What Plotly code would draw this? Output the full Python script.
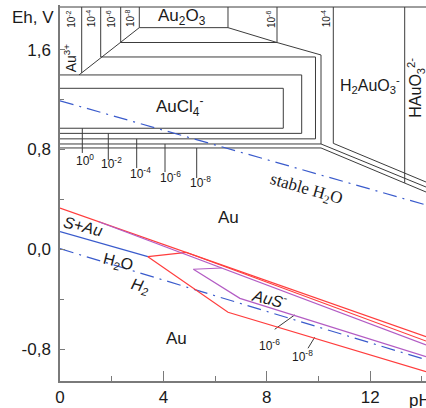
import plotly.graph_objects as go

# ---------------- data (pH, Eh in V) ----------------
# upper frame of the diagram
top_ph = [0, 14.16]
top_eh = [1.9415, 1.9415]

# Au3+ / Au2O3 boundaries (vertical lines, 10^-2 .. 10^-8) and the Au3+ diagonal
au3_v_ph = [0.839, 1.574, 2.348, 3.068]
au3_v_eh = [1.413, 1.541, 1.657, 1.776]
au3_diag_ph = [0.735, 3.068]
au3_diag_eh = [1.397, 1.776]

# Au2O3 / H2AuO3- / HAuO3(2-) vertical boundaries
ox_v_ph = [6.499, 8.395, 10.573, 13.335]
ox_v_eh = [1.776, 1.657, 0.849, 0.532]

# AuCl4- field contours for 10^0, 10^-2, 10^-4, 10^-6, 10^-8
cl0_ph = [0, 8.638, 8.638, 0]
cl0_eh = [1.290, 1.290, 0.970, 0.970]
cl2_ph = [0, 9.350, 9.350, 0]
cl2_eh = [1.397, 1.397, 0.929, 0.929]
cl4_ph = [1.574, 9.884, 9.884, 0]
cl4_eh = [1.541, 1.541, 0.885, 0.885]
cl6_ph = [2.348, 8.395, 10.097, 10.097, 0]
cl6_eh = [1.657, 1.657, 1.557, 0.844, 0.844]
cl8_ph = [3.068, 6.499, 8.395]
cl8_eh = [1.776, 1.776, 1.657]

# Au / H2AuO3- boundaries
ha4_ph = [10.573, 14.16]
ha4_eh = [0.849, 0.539]
ha6_ph = [10.097, 14.16]
ha6_eh = [0.844, 0.499]
ha8_ph = [0, 10.097, 14.16]
ha8_eh = [0.812, 0.812, 0.459]

# leader lines for the AuCl4- contour labels
cl_lead_ph = [0.863, 1.868, 2.967, 4.062, 5.288]
cl_lead_top = [0.970, 0.929, 0.885, 0.844, 0.812]
cl_lead_bot = [0.772, 0.716, 0.651, 0.619, 0.571]

# water stability lines
o2_ph = [0, 14.16]
o2_eh = [1.19, 0.355]
h2_ph = [0, 14.16]
h2_eh = [0.005, -0.885]
s_h2s_ph = [0, 3.40]
s_h2s_eh = [0.141, -0.059]

# sulfur / AuS- system
redA_ph = [0, 14.16]
redA_eh = [0.33, -0.70]
redB_ph = [4.90, 14.16]
redB_eh = [-0.026, -0.735]
red_short_ph = [3.40, 4.90]
red_short_eh = [-0.059, -0.024]
red_low_ph = [3.40, 6.50, 14.16]
red_low_eh = [-0.059, -0.505, -0.981]
pur_up_ph = [1.5, 14.16]
pur_up_eh = [0.221, -0.767]
pur_short_ph = [5.16, 6.26]
pur_short_eh = [-0.160, -0.150]
pur_low_ph = [5.16, 6.96, 14.16]
pur_low_eh = [-0.160, -0.393, -0.861]
lead6_ph = [8.306, 9.079]
lead6_eh = [-0.641, -0.526]
lead8_ph = [9.594, 9.853]
lead8_eh = [-0.793, -0.705]

# tick labels
x_ticks = [0, 4, 8, 12]
x_ticktext = ["0", "4", "8", "12"]
y_ticks = [-0.8, 0.0, 0.8, 1.6]
y_ticktext = ["-0,8", "0,0", "0,8", "1,6"]

# ---------------- figure ----------------
fig = go.Figure()


def add_lines(segments, color, width, dash=None):
    xs, ys = [], []
    for sx, sy in segments:
        xs += list(sx) + [None]
        ys += list(sy) + [None]
    fig.add_trace(go.Scatter(x=xs, y=ys, mode="lines",
                             line=dict(color=color, width=width, dash=dash),
                             hoverinfo="skip", showlegend=False))


gray = "#3c3c3c"
segs = [(top_ph, top_eh), (au3_diag_ph, au3_diag_eh)]
for p, e in zip(au3_v_ph, au3_v_eh):
    segs.append(([p, p], [top_eh[0], e]))
for p, e in zip(ox_v_ph, ox_v_eh):
    segs.append(([p, p], [top_eh[0], e]))
segs += [(cl0_ph, cl0_eh), (cl2_ph, cl2_eh), (cl4_ph, cl4_eh), (cl6_ph, cl6_eh),
         (cl8_ph, cl8_eh), (ha4_ph, ha4_eh), (ha6_ph, ha6_eh), (ha8_ph, ha8_eh)]
for p, a, b in zip(cl_lead_ph, cl_lead_top, cl_lead_bot):
    segs.append(([p, p], [a, b]))
segs += [(lead6_ph, lead6_eh), (lead8_ph, lead8_eh)]
add_lines(segs, gray, 1)

blue = "#3a5bcc"
add_lines([(o2_ph, o2_eh), (h2_ph, h2_eh)], blue, 1.2, dash="14px,6px,2px,6px")
add_lines([(s_h2s_ph, s_h2s_eh)], blue, 1.2)

red = "#ff3d3d"
add_lines([(redA_ph, redA_eh), (redB_ph, redB_eh), (red_short_ph, red_short_eh),
           (red_low_ph, red_low_eh)], red, 1.2)
purple = "#b35cc4"
add_lines([(pur_up_ph, pur_up_eh), (pur_short_ph, pur_short_eh),
           (pur_low_ph, pur_low_eh)], purple, 1.2)

# ---------------- labels ----------------
sans = "Liberation Sans"
serif = "Liberation Serif"
labels = [
    # text, pH, Eh, angle, size, family
    ("Au<sub>2</sub>O<sub>3</sub>", 4.72, 1.862, 0, 17, sans),
    ("Au<sup>3+</sup>", 0.40, 1.533, -90, 14, sans),
    ("AuCl<sub>4</sub><sup>-</sup>", 4.64, 1.143, 0, 17, sans),
    ("H<sub>2</sub>AuO<sub>3</sub><sup>-</sup>", 11.98, 1.317, 0, 16, sans),
    ("HAuO<sub>3</sub><sup>2-</sup>", 13.76, 1.292, -90, 16, sans),
    ("stable H<sub>2</sub>O", 9.52, 0.475, 16, 17, serif),
    ("Au", 6.50, 0.251, 0, 17, sans),
    ("<i>S+Au</i>", 0.89, 0.179, 14, 16, sans),
    ("H<sub>2</sub>O", 2.24, -0.102, 14, 16, sans),
    ("<i>H<sub>2</sub></i>", 3.10, -0.302, 14, 16, sans),
    ("<i>AuS<sup>-</sup></i>", 8.12, -0.390, 14, 16, sans),
    ("Au", 4.52, -0.713, 0, 17, sans),
    ("10<sup>-6</sup>", 8.11, -0.767, 0, 12, sans),
    ("10<sup>-8</sup>", 9.40, -0.855, 0, 12, sans),
    ("10<sup>0</sup>", 0.97, 0.716, 0, 12, sans),
    ("10<sup>-2</sup>", 2.01, 0.692, 0, 12, sans),
    ("10<sup>-4</sup>", 3.10, 0.614, 0, 12, sans),
    ("10<sup>-6</sup>", 4.26, 0.579, 0, 12, sans),
    ("10<sup>-8</sup>", 5.42, 0.542, 0, 12, sans),
]
top_conc_text = ["10<sup>-2</sup>", "10<sup>-4</sup>", "10<sup>-6</sup>", "10<sup>-8</sup>",
                 "10<sup>-6</sup>", "10<sup>-4</sup>"]
top_conc_ph = [0.418, 1.207, 1.961, 2.708, 8.162, 10.302]
top_conc_eh = 1.845
for t, p in zip(top_conc_text, top_conc_ph):
    labels.append((t, p, top_conc_eh, -90, 10, sans))

for t, p, e, ang, sz, fam in labels:
    fig.add_annotation(x=p, y=e, text=t, showarrow=False, textangle=ang,
                       xanchor="center", yanchor="middle",
                       font=dict(family=fam, size=sz, color="#1a1a1a"))

fig.add_annotation(xref="paper", yref="paper", x=-0.075, y=0.968, text="Eh, V",
                   showarrow=False, xanchor="center", yanchor="middle",
                   font=dict(family=sans, size=17, color="#1a1a1a"))
fig.add_annotation(xref="paper", yref="paper", x=0.947, y=-0.052, text="pH",
                   showarrow=False, xanchor="left", yanchor="middle",
                   font=dict(family=sans, size=17, color="#1a1a1a"))

axcol = "#7a7a7a"
fig.update_layout(
    width=426, height=408,
    margin=dict(l=60, r=0, t=5, b=27),
    plot_bgcolor="white", paper_bgcolor="white", showlegend=False,
    xaxis=dict(range=[0, 14.159], showline=True, linecolor=axcol, linewidth=1.5,
               ticks="inside", ticklen=10, tickwidth=1.2, tickcolor=axcol,
               tickvals=x_ticks, ticktext=x_ticktext,
               minor=dict(tickvals=[2, 6, 10, 14], ticklen=5, ticks="inside",
                          tickcolor=axcol, tickwidth=1.2),
               showgrid=False, zeroline=False,
               tickfont=dict(family=sans, size=17, color="#1a1a1a")),
    yaxis=dict(range=[-1.0553, 1.9575], showline=True, linecolor=axcol, linewidth=1.5,
               ticks="inside", ticklen=5, tickwidth=1.2, tickcolor=axcol,
               tickvals=y_ticks, ticktext=y_ticktext,
               minor=dict(tickvals=[-0.4, 0.4, 1.2], ticklen=4, ticks="inside",
                          tickcolor=axcol, tickwidth=1.2),
               showgrid=False, zeroline=False, ticklabelstandoff=4,
               tickfont=dict(family=sans, size=17, color="#1a1a1a")),
)

fig.write_html("out.html", config={"displayModeBar": False},
               post_script="document.body.style.margin='0';document.body.style.overflow='hidden';")
